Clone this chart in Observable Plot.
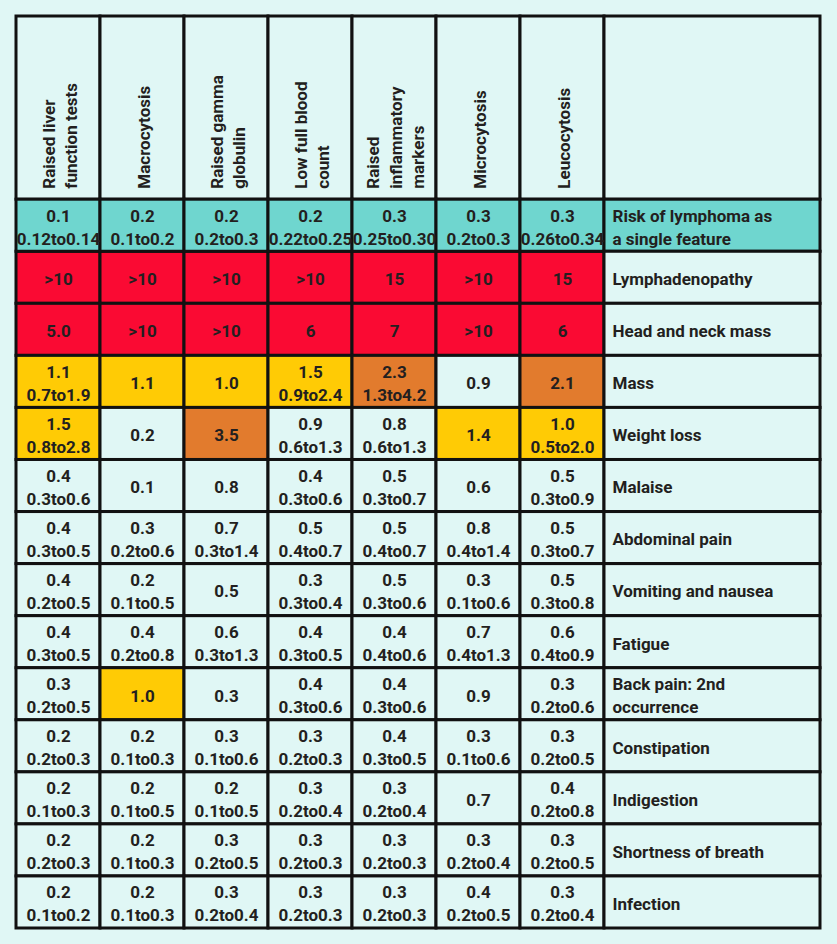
<!DOCTYPE html>
<html>
<head>
<meta charset="utf-8">
<script src="https://cdn.jsdelivr.net/npm/d3@7"></script>
<script src="https://cdn.jsdelivr.net/npm/@observablehq/plot@0.6"></script>
<style>
  html, body { margin: 0; padding: 0; background: #e0f7f5; }
  #chart svg { display: block; }
</style>
</head>
<body>
<div id="chart"></div>
<script>
// ---- Data ----
const columns = [
  "Raised liver\nfunction tests",
  "Macrocytosis",
  "Raised gamma\nglobulin",
  "Low full blood\ncount",
  "Raised\ninflammatory\nmarkers",
  "Microcytosis",
  "Leucocytosis"
];

const rows = [
  "Risk of lymphoma as\na single feature",
  "Lymphadenopathy",
  "Head and neck mass",
  "Mass",
  "Weight loss",
  "Malaise",
  "Abdominal pain",
  "Vomiting and nausea",
  "Fatigue",
  "Back pain: 2nd\noccurrence",
  "Constipation",
  "Indigestion",
  "Shortness of breath",
  "Infection"
];

const estimates = [
  ["0.1", "0.2", "0.2", "0.2", "0.3", "0.3", "0.3"],
  [">10", ">10", ">10", ">10", "15", ">10", "15"],
  ["5.0", ">10", ">10", "6", "7", ">10", "6"],
  ["1.1", "1.1", "1.0", "1.5", "2.3", "0.9", "2.1"],
  ["1.5", "0.2", "3.5", "0.9", "0.8", "1.4", "1.0"],
  ["0.4", "0.1", "0.8", "0.4", "0.5", "0.6", "0.5"],
  ["0.4", "0.3", "0.7", "0.5", "0.5", "0.8", "0.5"],
  ["0.4", "0.2", "0.5", "0.3", "0.5", "0.3", "0.5"],
  ["0.4", "0.4", "0.6", "0.4", "0.4", "0.7", "0.6"],
  ["0.3", "1.0", "0.3", "0.4", "0.4", "0.9", "0.3"],
  ["0.2", "0.2", "0.3", "0.3", "0.4", "0.3", "0.3"],
  ["0.2", "0.2", "0.2", "0.3", "0.3", "0.7", "0.4"],
  ["0.2", "0.2", "0.3", "0.3", "0.3", "0.3", "0.3"],
  ["0.2", "0.2", "0.3", "0.3", "0.3", "0.4", "0.3"]
];

const intervals = [
  ["0.12to0.14", "0.1to0.2", "0.2to0.3", "0.22to0.25", "0.25to0.30", "0.2to0.3", "0.26to0.34"],
  ["", "", "", "", "", "", ""],
  ["", "", "", "", "", "", ""],
  ["0.7to1.9", "", "", "0.9to2.4", "1.3to4.2", "", ""],
  ["0.8to2.8", "", "", "0.6to1.3", "0.6to1.3", "", "0.5to2.0"],
  ["0.3to0.6", "", "", "0.3to0.6", "0.3to0.7", "", "0.3to0.9"],
  ["0.3to0.5", "0.2to0.6", "0.3to1.4", "0.4to0.7", "0.4to0.7", "0.4to1.4", "0.3to0.7"],
  ["0.2to0.5", "0.1to0.5", "", "0.3to0.4", "0.3to0.6", "0.1to0.6", "0.3to0.8"],
  ["0.3to0.5", "0.2to0.8", "0.3to1.3", "0.3to0.5", "0.4to0.6", "0.4to1.3", "0.4to0.9"],
  ["0.2to0.5", "", "", "0.3to0.6", "0.3to0.6", "", "0.2to0.6"],
  ["0.2to0.3", "0.1to0.3", "0.1to0.6", "0.2to0.3", "0.3to0.5", "0.1to0.6", "0.2to0.5"],
  ["0.1to0.3", "0.1to0.5", "0.1to0.5", "0.2to0.4", "0.2to0.4", "", "0.2to0.8"],
  ["0.2to0.3", "0.1to0.3", "0.2to0.5", "0.2to0.3", "0.2to0.3", "0.2to0.4", "0.2to0.5"],
  ["0.1to0.2", "0.1to0.3", "0.2to0.4", "0.2to0.3", "0.2to0.3", "0.2to0.5", "0.2to0.4"]
];

// risk thresholds used for cell colouring
const thresholds = [1, 2, 5];

// ---- Style ----
const BG = "#e0f7f5";
const TEAL = "#6fd6cf";
const YELLOW = "#ffcb05";
const ORANGE = "#e27b2d";
const RED = "#fa0a33";
const INK = "#231f20";
const labelSpan = 216 / 84;   // width of the label column, in column units
const headerSpan = 183 / 52;  // height of the header row, in row units

// ---- Build table ----
const num = s => parseFloat(String(s).replace(">", ""));
const cells = [];
rows.forEach((r, i) => columns.forEach((c, j) => {
  cells.push({row: i, col: j, est: estimates[i][j], ci: intervals[i][j], v: num(estimates[i][j])});
}));
const rowObjs = rows.map((r, i) => ({row: i, label: r}));
const colObjs = columns.map((c, j) => ({col: j, label: c}));

const nCols = columns.length;
const strokeOpts = {stroke: "#111", strokeWidth: 3};
const textOpts = {fontSize: 17, fontWeight: 700, fill: INK};

const chart = Plot.plot({
  width: 837,
  height: 944,
  marginLeft: 16,
  marginRight: 17,
  marginTop: 16,
  marginBottom: 16,
  style: {fontFamily: "Roboto, 'DejaVu Sans', sans-serif", fontSize: "17px", background: BG, color: INK},
  x: {type: "linear", domain: [0, nCols + labelSpan], axis: null},
  y: {type: "linear", domain: [-headerSpan, rows.length], reverse: true, axis: null},
  color: {type: "threshold", domain: thresholds, range: [BG, YELLOW, ORANGE, RED]},
  marks: [
    // header cells
    Plot.rect(colObjs, {x1: "col", x2: d => d.col + 1, y1: -headerSpan, y2: 0, fill: BG, ...strokeOpts}),
    Plot.rect([0], {x1: nCols, x2: nCols + labelSpan, y1: -headerSpan, y2: 0, fill: BG, ...strokeOpts}),
    // data cells
    Plot.rect(cells.filter(d => d.row > 0), {x1: "col", x2: d => d.col + 1, y1: "row", y2: d => d.row + 1, fill: "v", ...strokeOpts}),
    Plot.rect(cells.filter(d => d.row === 0), {x1: "col", x2: d => d.col + 1, y1: "row", y2: d => d.row + 1, fill: TEAL, ...strokeOpts}),
    // label column cells
    Plot.rect(rowObjs, {x1: nCols, x2: nCols + labelSpan, y1: "row", y2: d => d.row + 1, fill: d => d.row === 0 ? TEAL : BG, ...strokeOpts}),
    // header text
    Plot.text(colObjs, {
      x: d => d.col + 0.5, y: 0, text: "label", rotate: -90, textAnchor: "start",
      lineAnchor: "middle", lineHeight: 1.3, dy: -11, ...textOpts
    }),
    // cell text
    Plot.text(cells, {
      x: d => d.col + 0.5, y: d => d.row + 0.5,
      text: d => d.ci ? `${d.est}\n${d.ci}` : d.est,
      lineAnchor: "middle", lineHeight: 1.35, ...textOpts
    }),
    // row labels
    Plot.text(rowObjs, {
      x: nCols, y: d => d.row + 0.5, text: "label", textAnchor: "start", dx: 8,
      lineAnchor: "middle", lineHeight: 1.35, ...textOpts
    })
  ]
});

document.getElementById("chart").appendChild(chart);
</script>
</body>
</html>
